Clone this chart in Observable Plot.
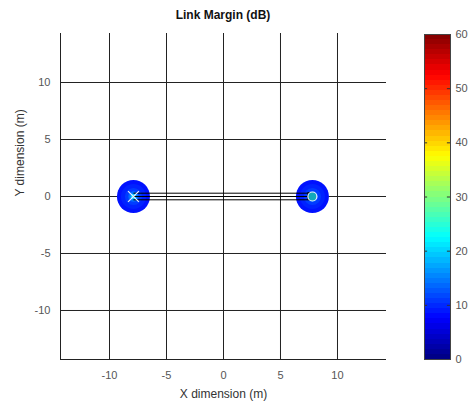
<!DOCTYPE html>
<html><head><meta charset="utf-8">
<script src="https://cdn.jsdelivr.net/npm/d3@7"></script>
<script src="https://cdn.jsdelivr.net/npm/@observablehq/plot@0.6"></script>
<style>
html,body{margin:0;padding:0;background:#fff;}
#wrap{position:relative;width:474px;height:407px;font-family:"Liberation Sans",Arial,sans-serif;}
#wrap svg{position:absolute;top:0;overflow:visible;}
#title{position:absolute;left:60px;width:326px;top:8px;text-align:center;font-weight:bold;font-size:12px;color:#111;}
</style></head>
<body><div id="wrap"><div id="title">Link Margin (dB)</div></div>
<script>
// ---- data ----
const xTicks = [-10, -5, 0, 5, 10];
const yTicks = [-10, -5, 0, 5, 10];
const nodeNames = ["Tx", "Rx"];
const nodeX = [-7.9, 7.8];
const nodeY = [0, 0];
const ringRadius = [1.45, 1.1, 0.75, 0.45, 0.25];   // metres
const ringMargin = [8.5, 9.5, 11, 14, 20];          // dB
const linkOffsets = [0.29, 0, -0.29];               // metres
const cbTicks = [0, 10, 20, 30, 40, 50, 60];
const jetStops = [0, 7.5, 22.5, 37.5, 52.5, 60];
const jetColors = ["#000080", "#0000ff", "#00ffff", "#ffff00", "#ff0000", "#800000"];

const W = 400, H = 407, mL = 60, mR = 14, mT = 33, mB = 48;
const half = 14.3;
const pxPerM = (W - mL - mR) / (2 * half);
const fmt = d => String(d);

const rings = [];
nodeNames.forEach((n, i) => ringRadius.forEach((r, j) => rings.push({x: nodeX[i], y: nodeY[i], r, m: ringMargin[j]})));
const links = linkOffsets.map(o => ({x1: nodeX[0], x2: nodeX[1], y: o}));
const color = {type: "linear", domain: jetStops, range: jetColors, interpolate: "rgb"};

const main = Plot.plot({
  width: W, height: H, marginLeft: mL, marginRight: mR, marginTop: mT, marginBottom: mB,
  style: {fontFamily: "Liberation Sans, Arial, sans-serif", fontSize: "11px", color: "#555"},
  x: {domain: [-half, half], axis: null},
  y: {domain: [-half, half], axis: null},
  r: {type: "linear", domain: [0, half], range: [0, half * pxPerM]},
  color,
  marks: [
    Plot.gridX(xTicks, {stroke: "#222", strokeOpacity: 1, strokeWidth: 1}),
    Plot.gridY(yTicks, {stroke: "#222", strokeOpacity: 1, strokeWidth: 1}),
    Plot.text(xTicks, {x: d => d, frameAnchor: "bottom", dy: 19, text: fmt, fill: "#555", fontSize: 11}),
    Plot.text(yTicks, {y: d => d, frameAnchor: "left", dx: -10, textAnchor: "end", text: fmt, fill: "#555", fontSize: 11}),
    Plot.ruleX([-half], {stroke: "#222"}),
    Plot.ruleY([-half], {stroke: "#222"}),
    Plot.dot(rings, {x: "x", y: "y", r: "r", fill: d => d.m, stroke: null, sort: null}),
    Plot.link(links, {x1: "x1", x2: "x2", y1: "y", y2: "y", stroke: "#000", strokeWidth: 1}),
    Plot.rect([{x: nodeX[1], y: nodeY[1]}], {x1: d => d.x - 0.35, x2: d => d.x + 0.1, y1: d => d.y - 0.29, y2: d => d.y + 0.29, fill: null, stroke: "#000"}),
    Plot.dot([{x: nodeX[0], y: nodeY[0]}], {x: "x", y: "y", symbol: "times", r: 5, stroke: "#eef", strokeWidth: 1.2}),
    Plot.dot([{x: nodeX[1], y: nodeY[1]}], {x: "x", y: "y", symbol: "circle", r: 4.5, stroke: "#eef", strokeWidth: 1.2, fill: "#1ab"}),
    Plot.text(["X dimension (m)"], {frameAnchor: "bottom", dy: 38, fontSize: 12, fill: "#333"}),
    Plot.text(["Y dimension (m)"], {frameAnchor: "left", dx: -40, rotate: -90, fontSize: 12, fill: "#333"})
  ]
});

const step = 60 / 64;
const bands = d3.range(0, 60, step).map(v => ({y1: v, y2: Math.min(60, v + step * 1.6), c: v + step / 2}));
const cbTickMarks = cbTicks.slice(1, -1);
const cb = Plot.plot({
  width: 74, height: H, marginLeft: 24, marginRight: 24, marginTop: 34, marginBottom: 48,
  style: {fontFamily: "Liberation Sans, Arial, sans-serif", fontSize: "11px", color: "#555"},
  x: {domain: [0, 1], axis: null},
  y: {domain: [0, 60], ticks: cbTicks, axis: "right", tickSize: 0, tickPadding: 5, label: null},
  color,
  marks: [
    Plot.rect(bands, {x1: 0, x2: 1, y1: "y1", y2: "y2", fill: "c", shapeRendering: "crispEdges"}),
    Plot.ruleY(cbTickMarks, {x1: 0, x2: 0.12, stroke: "#333"}),
    Plot.ruleY(cbTickMarks, {x1: 0.88, x2: 1, stroke: "#333"}),
    Plot.frame({stroke: "#444"})
  ]
});

const wrap = document.getElementById("wrap");
main.style.left = "0px";
cb.style.left = "400px";
wrap.appendChild(main);
wrap.appendChild(cb);
</script></body></html>
